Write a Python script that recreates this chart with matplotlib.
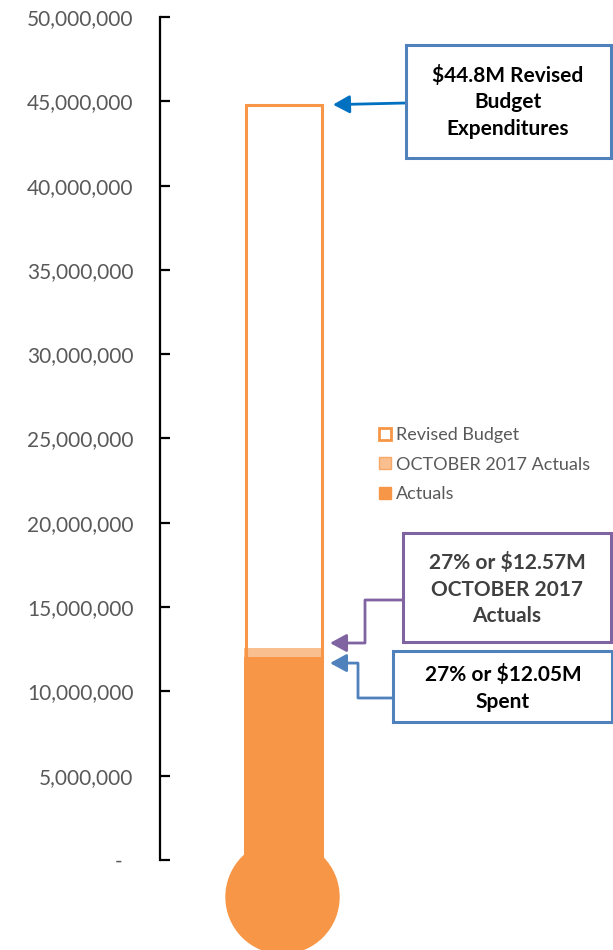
import matplotlib
matplotlib.use("Agg")
import matplotlib.pyplot as plt
from matplotlib.patches import Patch, Rectangle, Ellipse
from matplotlib.ticker import FuncFormatter

plt.rcParams['font.family'] = ['Lato', 'DejaVu Sans']

# data
category = 'Expenditures'
revised_budget = 44.8e6
october_actuals = 12.57e6
actuals = 12.05e6
y_ticks = [0, 5e6, 10e6, 15e6, 20e6, 25e6, 30e6, 35e6, 40e6, 45e6, 50e6]
legend_labels = ['Revised Budget', 'OCTOBER 2017 Actuals', 'Actuals']
box_texts = ['$44.8M Revised\nBudget\nExpenditures',
             '27% or $12.57M\nOCTOBER 2017\nActuals',
             '27% or $12.05M\nSpent']

orange = '#f79646'
light = '#fabf8f'
grey = '#595959'

W, H = 613, 950


def fp(x, y):
    # pixel position (from top left) -> figure fraction
    return (x / W, 1 - y / H)


fig = plt.figure(figsize=(W / 100, H / 100), dpi=100)
ax = fig.add_axes([160 / W, 90 / H, 453 / W, 843 / H])

# x axis in pixel-like units so the bulb stays round
bx = 123.5
bw = 79
ax.bar(bx, revised_budget, width=bw - 3, fill=False, edgecolor=orange, lw=2.2, zorder=3)
ax.bar(bx, october_actuals, width=bw, color=light, zorder=2)
ax.bar(bx, actuals, width=bw, color=orange, zorder=2)

# bulb + bit of stem below zero
px_per_unit = 843 / 50e6
ax.bar(bx, 3 / px_per_unit, bottom=-3 / px_per_unit, width=bw, color=orange,
       clip_on=False, zorder=2)
ax.add_patch(Ellipse((bx - 1, -37 / px_per_unit), 113, 113 / px_per_unit,
                     color=orange, clip_on=False, zorder=2))

ax.set_xlim(0, 453)
ax.set_ylim(0, 50e6)
ax.set_yticks(y_ticks)
ax.yaxis.set_major_formatter(FuncFormatter(
    lambda v, p: '-  ' if v == 0 else f'{v:,.0f}'))
ax.tick_params(axis='y', direction='in', length=7, width=1.6, pad=19,
               labelsize=15, labelcolor=grey, color='black')
ax.set_xticks([])
for s in ['top', 'right', 'bottom']:
    ax.spines[s].set_visible(False)
ax.spines['left'].set_linewidth(1.6)

# legend
handles = [Patch(facecolor='white', edgecolor=orange, lw=2),
           Patch(facecolor=light, edgecolor='#f7a866', lw=1),
           Patch(facecolor=orange, edgecolor=orange, lw=1)]
fig.legend(handles, legend_labels, loc='upper left',
           bbox_to_anchor=fp(372, 420), frameon=False, fontsize=13,
           labelcolor=grey, handlelength=0.65, handleheight=0.65,
           handletextpad=0.3, labelspacing=0.75, borderaxespad=0)

# annotation boxes
boxes = [((406, 45, 611, 158), '#4f81bd', 'black', (508, 102)),
         ((403, 533, 611, 642), '#8064a2', '#404040', (507, 589)),
         ((393, 651, 612, 722), '#4f81bd', 'black', (503, 688))]
for (x0, y0, x1, y1), ec, tc, (tx, ty), txt in zip(
        [b[0] for b in boxes], [b[1] for b in boxes], [b[2] for b in boxes],
        [b[3] for b in boxes], box_texts):
    fig.add_artist(Rectangle(fp(x0, y1), (x1 - x0) / W, (y1 - y0) / H,
                             transform=fig.transFigure, facecolor='white',
                             edgecolor=ec, lw=2.2))
    fig.text(*fp(tx, ty), txt, ha='center', va='center', fontsize=15,
             fontweight='bold', color=tc, linespacing=1.42)

# arrows pointing at the bar (arc arms are in pixels)
arrow_x = 330 - 160
head = '-|>,head_length=0.55,head_width=0.3'
ax.annotate('', xy=(arrow_x + 3, revised_budget), xycoords='data',
            xytext=fp(406, 103), textcoords='figure fraction',
            arrowprops=dict(arrowstyle=head, mutation_scale=18, color='#0070c0',
                            lw=2, shrinkA=0, shrinkB=0))
ax.annotate('', xy=(arrow_x, october_actuals + 0.3e6), xycoords='data',
            xytext=fp(403, 600), textcoords='figure fraction',
            arrowprops=dict(arrowstyle=head, mutation_scale=18, color='#8064a2',
                            lw=2, shrinkA=0, shrinkB=0,
                            connectionstyle='arc,angleA=180,angleB=0,armA=38,armB=35,rad=0'))
ax.annotate('', xy=(arrow_x, actuals - 0.37e6), xycoords='data',
            xytext=fp(393, 698), textcoords='figure fraction',
            arrowprops=dict(arrowstyle=head, mutation_scale=18, color='#4f81bd',
                            lw=2, shrinkA=0, shrinkB=0,
                            connectionstyle='arc,angleA=180,angleB=0,armA=35,armB=28,rad=0'))

fig.savefig('out.png', dpi=100)
